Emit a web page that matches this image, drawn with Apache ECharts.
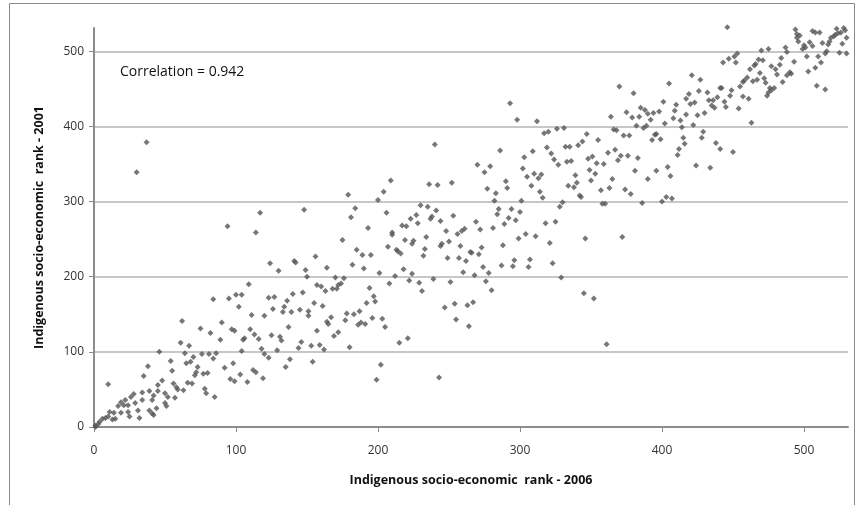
<!DOCTYPE html>
<html>
<head>
<meta charset="utf-8">
<script src="https://cdn.jsdelivr.net/npm/echarts@6/dist/echarts.min.js"></script>
<style>
html,body{margin:0;padding:0;background:#fff;}
#chart{width:862px;height:505px;}
</style>
</head>
<body>
<div id="chart"></div>
<script>
// [rank 2006, rank 2001], grouped by region
var lowRanks = [
[82,125],[61,112],[67,108],[46,100],[64,98],[70,93],[76,97],[81,97],[86,98],[84,91],
[54,88],[38,81],[65,85],[68,87],[73,80],[72,73],[71,69],[77,71],[80,72],[55,75],
[35,68],[66,59],[69,58],[48,62],[45,56],[56,58],[58,53],[59,50],[63,49],[78,51],
[79,45],[85,40],[10,57],[28,44],[26,40],[34,46],[39,48],[45,48],[50,45],[42,42],
[41,36],[52,40],[57,39],[50,32],[51,28],[34,36],[22,36],[19,33],[17,28],[21,29],
[24,29],[29,32],[31,22],[39,22],[44,25],[41,18],[42,16],[32,12],[24,20],[25,14],
[19,19],[14,19],[11,20],[10,14],[13,10],[15,11],[8,12],[6,11],[4,7],[3,4],[1,2],[1,0],
[37,379],[30,339],[117,285],[148,289]
];
var midLowRanks = [
[94,267],[114,259],[175,249],[124,218],[130,208],[141,221],[142,219],[156,227],[149,209],[150,200],
[164,212],[170,199],[176,198],[157,189],[160,187],[163,181],[168,184],[171,184],[172,189],[174,191],
[109,190],[84,170],[95,171],[100,176],[104,176],[102,160],[123,172],[127,173],[111,149],[120,148],
[126,157],[134,160],[133,153],[139,153],[145,156],[151,154],[151,148],[155,165],[161,161],[167,146],
[164,140],[165,137],[137,133],[157,128],[169,121],[172,126],[62,141],[75,131],[90,139],[89,116],
[97,130],[99,128],[106,118],[105,116],[116,117],[113,123],[110,130],[131,120],[132,115],[129,102],
[125,122],[118,104],[120,97],[123,92],[138,90],[135,80],[144,105],[146,113],[154,87],[153,108],
[159,109],[162,103],[104,101],[98,85],[92,79],[96,64],[99,61],[103,70],[108,60],[112,76],
[114,73],[119,65],[136,168],[140,177],[147,179]
];
var midRanks = [
[193,265],[210,259],[210,256],[217,268],[220,267],[219,249],[225,248],[224,244],[234,253],[207,240],
[213,236],[214,234],[216,231],[185,236],[189,229],[195,229],[182,216],[190,211],[201,205],[212,201],
[208,191],[218,210],[224,204],[222,195],[229,192],[231,181],[232,228],[233,237],[239,197],[248,261],
[250,247],[245,244],[244,241],[249,225],[251,193],[256,257],[259,261],[261,264],[258,241],[257,225],
[262,221],[260,206],[265,233],[266,232],[272,263],[271,230],[273,239],[268,202],[274,213],[276,194],
[278,205],[280,182],[281,265],[288,242],[287,215],[295,214],[296,222],[299,251],[304,257],[311,254],
[306,213],[307,223],[321,245],[323,218],[329,199],[346,251],[345,178],[352,171],[194,185],[197,174],
[192,165],[198,167],[178,151],[183,150],[187,154],[177,142],[186,136],[188,139],[191,137],[196,145],
[203,144],[205,133],[180,106],[215,112],[221,118],[247,159],[254,164],[255,143],[263,162],[267,166],
[264,134],[202,83],[199,63],[243,66],[372,253],[361,110]
];
var midHighRanks = [
[179,309],[184,291],[181,279],[200,302],[204,313],[209,328],[206,285],[230,295],[227,282],[223,277],
[228,271],[235,293],[236,323],[242,322],[240,376],[241,288],[238,280],[237,277],[244,274],[252,325],
[253,281],[269,273],[270,349],[275,339],[279,347],[277,317],[283,311],[282,301],[286,368],[290,327],
[291,318],[285,290],[284,283],[289,270],[292,278],[294,290],[297,275],[300,286],[301,301],[293,431],
[298,409],[312,407],[302,344],[303,359],[305,333],[309,367],[308,321],[310,337],[313,331],[315,336],
[314,313],[316,305],[317,391],[320,393],[319,372],[322,364],[324,356],[327,349],[326,397],[331,398],
[332,373],[335,373],[333,353],[336,354],[339,335],[334,321],[338,319],[340,325],[342,308],[343,306],
[328,293],[330,299],[318,271],[325,273],[341,375],[344,380],[347,390],[348,357],[351,360],[354,351],
[349,342],[353,337],[350,328]
];
var highRanks = [
[446,532],[370,453],[380,444],[405,457],[421,468],[427,462],[401,433],[364,413],[366,396],[368,395],
[355,382],[357,315],[359,350],[362,365],[367,369],[371,361],[369,355],[376,361],[383,358],[363,318],
[365,330],[374,316],[378,310],[381,341],[390,330],[396,341],[404,346],[406,334],[386,298],[400,300],
[403,306],[407,304],[358,297],[360,297],[375,419],[379,412],[384,413],[385,425],[388,422],[390,417],
[392,409],[394,418],[398,420],[382,401],[387,398],[389,401],[373,388],[377,388],[393,382],[395,389],
[396,390],[399,383],[402,404],[408,411],[409,421],[410,429],[413,408],[414,399],[415,385],[416,377],
[412,370],[411,362],[417,437],[419,443],[420,430],[423,432],[426,447],[425,415],[422,402],[429,393],
[428,385],[424,348],[434,345],[430,418],[432,445],[433,435],[436,435],[435,428],[437,425],[439,439],
[441,451],[442,451],[444,433],[445,426],[448,441],[449,448],[438,378],[441,370],[450,366],[443,485],
[447,490],[451,493],[453,497],[452,485],[454,424],[457,440],[461,437],[455,453],[457,459],[460,465],
[458,461],[462,476],[463,405],[465,481],[466,483],[468,489],[464,460],[467,462],[469,471],[470,501],
[471,488],[472,464],[473,458],[475,503],[477,480],[476,451],[475,445],[477,448],[479,451],[474,441],
[480,476],[481,469],[483,482],[484,491],[485,459],[487,505],[488,499],[488,468],[490,472],[491,470],
[493,486],[494,529],[495,518],[496,513],[495,523],[497,521],[499,503],[500,508],[501,505],[502,493],
[503,473],[504,512],[506,527],[508,525],[506,507],[508,478],[510,493],[509,454],[511,525],[512,485],
[513,511],[515,449],[515,497],[516,500],[517,509],[518,513],[519,518],[521,520],[522,522],[523,530],
[524,524],[525,498],[526,525],[528,531],[529,528],[527,510],[530,497],[530,518],[417,416]
];
var tickValues = [0, 100, 200, 300, 400, 500];
var xTitle = 'Indigenous socio-economic  rank - 2006';
var yTitle = 'Indigenous socio-economic  rank - 2001';
var noteText = 'Correlation = 0.942';

var points = [].concat(lowRanks, midLowRanks, midRanks, midHighRanks, highRanks);
var FONT = '"Open Sans", Lato, sans-serif';

var chart = echarts.init(document.getElementById('chart'), null, {renderer: 'canvas'});
var axisCommon = {
  type: 'value', min: 0, max: 531, interval: 100,
  axisLine: {show: true, lineStyle: {color: '#8c8c8c', width: 2}},
  axisTick: {show: true, length: 5, lineStyle: {color: '#8c8c8c', width: 1}, customValues: tickValues},
  axisLabel: {color: '#333', fontSize: 12, fontFamily: FONT, customValues: tickValues},
  nameLocation: 'middle',
  nameTextStyle: {color: '#111', fontSize: 12.5, fontWeight: 'bold', fontFamily: FONT}
};
chart.setOption({
  animation: false,
  backgroundColor: '#fff',
  grid: {left: 94, top: 28, right: 14, bottom: 78, containLabel: false},
  xAxis: echarts.util.merge({
    name: xTitle, nameGap: 47,
    splitLine: {show: false},
    axisLabel: {margin: 18}
  }, axisCommon, false),
  yAxis: echarts.util.merge({
    name: yTitle, nameGap: 48,
    splitLine: {show: true, lineStyle: {color: '#b4b4b4', width: 1.5}},
    axisLabel: {margin: 10}
  }, axisCommon, false),
  series: [{
    type: 'scatter',
    data: points,
    symbol: 'diamond',
    symbolSize: 6,
    itemStyle: {color: '#555555'},
    clip: false
  }],
  graphic: [
    {type: 'rect', shape: {x: 9.5, y: 3.5, width: 845, height: 530}, style: {fill: 'none', stroke: '#8a8a8a', lineWidth: 1}, silent: true},
    {type: 'text', left: 120, top: 65, style: {text: noteText, fontSize: 14, fontFamily: FONT, fill: '#111'}}
  ]
});
</script>
</body>
</html>
